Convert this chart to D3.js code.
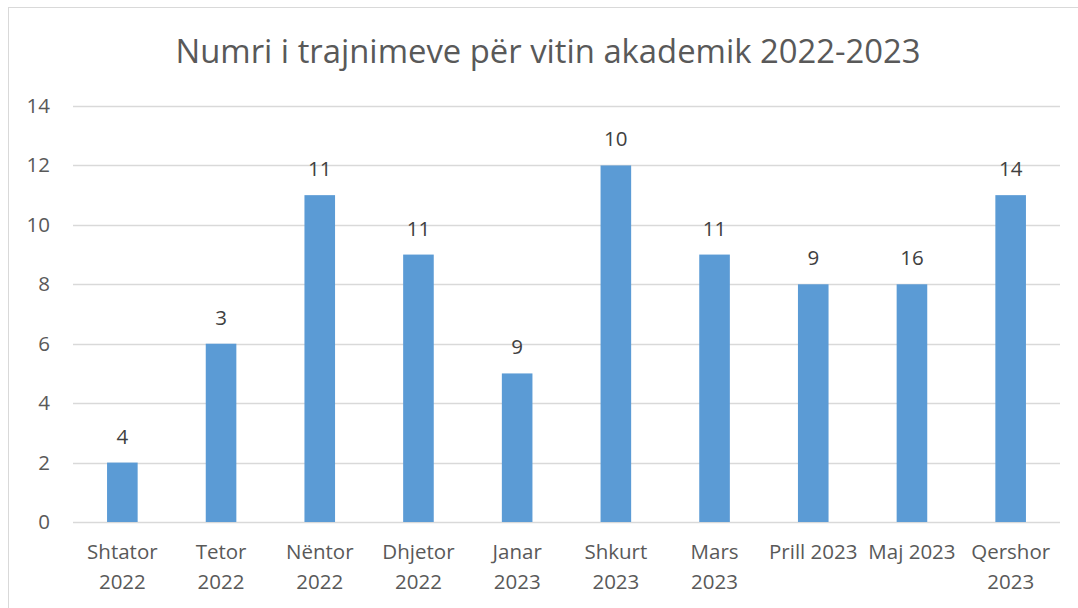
<!DOCTYPE html>
<html>
<head>
<meta charset="utf-8">
<script src="https://cdn.jsdelivr.net/npm/d3@7"></script>
<style>
  html, body { margin: 0; padding: 0; background: #fff; }
  svg { display: block; }
  text { font-family: "Open Sans", "Liberation Sans", sans-serif; }
</style>
</head>
<body>
<div id="chart"></div>
<script>
// chart values
var months = [
  ['Shtator', '2022'], ['Tetor', '2022'], ['Nëntor', '2022'], ['Dhjetor', '2022'],
  ['Janar', '2023'], ['Shkurt', '2023'], ['Mars', '2023'], ['Prill 2023'],
  ['Maj 2023'], ['Qershor', '2023']
];
var barValues = [2, 6, 11, 9, 5, 12, 9, 8, 8, 11];
var barLabels = [4, 3, 11, 11, 9, 10, 11, 9, 16, 14];
var yTicks = [0, 2, 4, 6, 8, 10, 12, 14];
var title = 'Numri i trajnimeve për vitin akademik 2022-2023';

(function () {
    'use strict';
    var width = 1078, height = 608;
    var margin = { top: 106, right: 18, bottom: 86, left: 73 };
    var innerW = width - margin.left - margin.right;
    var innerH = height - margin.top - margin.bottom;
    var fs = '20.5px';

    var svg = d3.select('#chart')
        .append('svg')
        .attr('width', width)
        .attr('height', height);

    // chart border
    svg.append('rect')
        .attr('x', 8.5).attr('y', 7.5)
        .attr('width', width + 10).attr('height', height + 10)
        .attr('fill', 'none')
        .attr('stroke', '#d9d9d9');

    svg.append('text')
        .attr('x', 548)
        .attr('y', 63)
        .attr('text-anchor', 'middle')
        .attr('fill', '#595959')
        .style('font-size', '32.8px')
        .text(title);

    var g = svg.append('g')
        .attr('transform', 'translate(' + margin.left + ',' + margin.top + ')');

    var x = d3.scaleBand()
        .domain(d3.range(months.length))
        .range([0, innerW])
        .paddingInner(0.69)
        .paddingOuter(0.345);

    var y = d3.scaleLinear()
        .domain([0, 14])
        .range([innerH, 0]);

    // gridlines
    g.append('g')
        .selectAll('line')
        .data(yTicks)
        .enter().append('line')
        .attr('x1', 0).attr('x2', innerW)
        .attr('y1', function (d) { return Math.round(y(d)) + 0.5; })
        .attr('y2', function (d) { return Math.round(y(d)) + 0.5; })
        .attr('stroke', '#d9d9d9')
        .attr('stroke-width', 1.3);

    // y axis labels
    var yAxis = g.append('g')
        .call(d3.axisLeft(y).tickValues(yTicks).tickSize(0).tickPadding(23));
    yAxis.select('.domain').remove();
    yAxis.selectAll('text')
        .attr('fill', '#595959')
        .style('font-size', fs)
        .style('font-family', '"Open Sans", sans-serif');

    // bars
    g.selectAll('rect.bar')
        .data(barValues)
        .enter().append('rect')
        .attr('class', 'bar')
        .attr('x', function (d, i) { return x(i); })
        .attr('y', function (d) { return y(d); })
        .attr('width', x.bandwidth())
        .attr('height', function (d) { return innerH - y(d); })
        .attr('fill', '#5b9bd5');

    // data labels
    g.selectAll('text.lbl')
        .data(barValues)
        .enter().append('text')
        .attr('class', 'lbl')
        .attr('x', function (d, i) { return x(i) + x.bandwidth() / 2; })
        .attr('y', function (d) { return y(d) - 19; })
        .attr('text-anchor', 'middle')
        .attr('fill', '#404040')
        .style('font-size', fs)
        .text(function (d, i) { return barLabels[i]; });

    // x axis labels (two lines)
    var xl = g.append('g')
        .selectAll('text')
        .data(months)
        .enter().append('text')
        .attr('text-anchor', 'middle')
        .attr('fill', '#595959')
        .style('font-size', fs)
        .attr('transform', function (d, i) {
            return 'translate(' + (x(i) + x.bandwidth() / 2) + ',' + (innerH + 37) + ')';
        });
    xl.each(function (d) {
        var t = d3.select(this);
        d.forEach(function (line, k) {
            t.append('tspan')
                .attr('x', 0)
                .attr('y', k * 30)
                .text(line);
        });
    });
})();
</script>
</body>
</html>
